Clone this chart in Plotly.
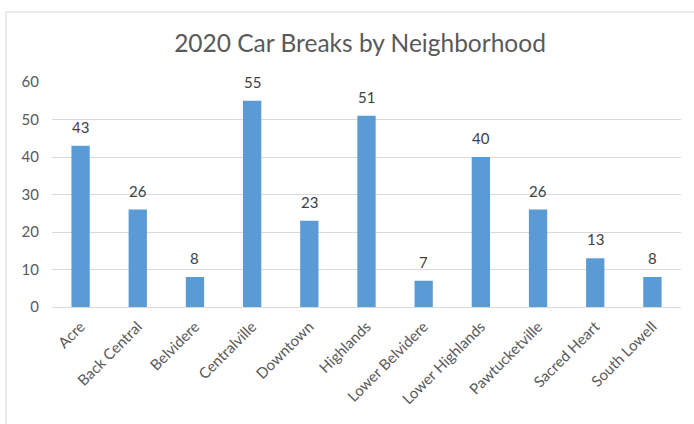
import plotly.graph_objects as go

neighborhoods = ["Acre", "Back Central", "Belvidere", "Centralville", "Downtown", "Highlands",
                 "Lower Belvidere", "Lower Highlands", "Pawtucketville", "Sacred Heart", "South Lowell"]
car_breaks = [43, 26, 8, 55, 23, 51, 7, 40, 26, 13, 8]
y_ticks = [0, 10, 20, 30, 40, 50, 60]

FONT = "Lato, 'Open Sans', sans-serif"

W, H = 694, 424

fig = go.Figure(go.Bar(
    x=neighborhoods, y=car_breaks,
    marker=dict(color="#5B9BD5", line=dict(width=0)),
    cliponaxis=False, hoverinfo="skip",
))

for n, v in zip(neighborhoods, car_breaks):
    fig.add_annotation(x=n, y=v, text=str(v), showarrow=False, yshift=19,
                       yanchor="middle", font=dict(size=15, color="#404040", family=FONT))

fig.update_layout(
    width=W, height=H,
    margin=dict(l=52, r=13, t=82, b=117, autoexpand=False),
    paper_bgcolor="white", plot_bgcolor="white",
    bargap=0.68,
    showlegend=False,
    title=dict(text="2020 Car Breaks by Neighborhood", x=360 / W, xanchor="center",
               y=1 - 43 / H, yanchor="middle",
               font=dict(size=24.5, color="#595959", family=FONT)),
    font=dict(family=FONT, color="#595959"),
    yaxis=dict(range=[0, 60], tickvals=y_ticks, showgrid=True, gridcolor="#D9D9D9",
               gridwidth=1, zeroline=False, showline=False, ticks="", automargin=False,
               tickfont=dict(size=15, color="#595959"), ticklabelstandoff=12),
    xaxis=dict(tickangle=-45, showline=True, linecolor="#D9D9D9", linewidth=1,
               ticks="", automargin=False, ticklabelstandoff=4,
               tickfont=dict(size=15, color="#595959")),
    shapes=[dict(type="rect", xref="paper", yref="paper",
                 x0=(6 - 52) / 629, x1=1.2, y0=-1, y1=(307 - 12) / 225,
                 line=dict(color="#D9D9D9", width=1), layer="below")],
)

fig.write_html("out.html", config={"displayModeBar": False},
               post_script="document.body.style.margin='0';document.body.style.overflow='hidden';")
